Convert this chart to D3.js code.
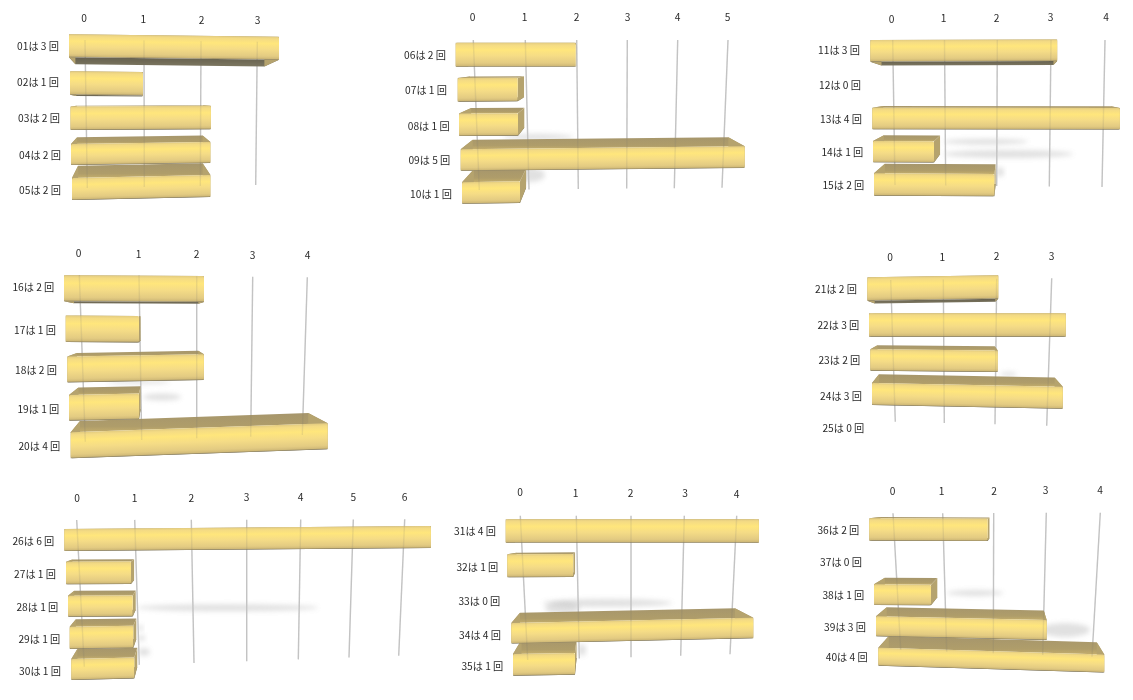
<!DOCTYPE html>
<html lang="ja"><head><meta charset="utf-8">
<style>html,body{margin:0;padding:0;background:#fff}svg{display:block}
text{font-family:"Noto Sans CJK JP","Noto Sans",sans-serif;font-size:10.2px;fill:#2a2a2a}</style>
<script src="https://cdn.jsdelivr.net/npm/d3@7"></script></head><body>
<svg id="c" width="1133" height="700"></svg>
<script>
// ---- values ----
const counts01to05=[3,1,2,2,2];
const counts06to10=[2,1,1,5,1];
const counts11to15=[3,0,4,1,2];
const counts16to20=[2,1,2,1,4];
const counts21to25=[2,3,2,3,0];
const counts26to30=[6,1,1,1,1];
const counts31to35=[4,1,0,4,1];
const counts36to40=[2,0,1,3,4];
const allCounts=[counts01to05,counts06to10,counts11to15,counts16to20,counts21to25,counts26to30,counts31to35,counts36to40];
const axisMax=[3,5,4,4,3,6,4,4];

// ---- perspective calibration per panel (view parameters, not data) ----
const views=[
{vx:133,vy:102,sx:.9,sy:.84,left:[69,70,70.5,71,72],unit:[70,73,70.2,69.7,69.2],cy:[45.7,83,118.2,154.5,189],h:[23,23.5,23.5,21,22],slope:[.012,.01,-.005,-.015,-.022],
 top:[85,144,201,257.3],bot:[87.3,144.3,200.3,255.7],gy:[40,41.7,188,185],tick:[84,143.3,201.7,257.5],ty:[18.5,20.5],
 lx:[59,59,60,61,61],ly:[46,82,118.7,155,190],shadows:[]},
{vx:581,vy:64,sx:.9,sy:.89,left:[455.7,457.7,459,460.7,462],unit:[60,60,59,56.8,58],cy:[54.7,89.8,124.7,160,193],h:[24,23.7,22.5,21.7,21.7],slope:[0,-.005,-.005,-.0105,-.015],
 top:[473.3,525.3,576.7,627.3,677.7,728],bot:[479.3,529,578.3,626.7,674.3,722],gy:[40,40,190,187.7],tick:[472.7,524.7,576.7,627.7,677.7,727.7],ty:[17,17],
 lx:[446,447,449.7,450.3,452],ly:[55,90.7,126,160,194],shadows:[[503,573,137,3],[515,545,175,7]]},
{vx:1010,vy:93,sx:.92,sy:.88,left:[870.3,871.3,872.3,873,874],unit:[62.3,62,61.9,61,60.2],cy:[50.8,84,118.5,151.7,184.5],h:[21.7,21.5,21.6,21.3,22.4],slope:[-.003,0,.001,.002,.005],
 top:[892.7,944.5,997.3,1051,1105],bot:[895,945.7,996.7,1049.3,1102],gy:[40,40,185,187],tick:[891.7,943.5,996.7,1050.7,1106],ty:[19,17],
 lx:[860,861,862,863.3,864.3],ly:[50.7,85,119.3,152,185],shadows:[[943,1028,141.7,3],[943,1073,154,4],[996,1004,172,5]]},
{vx:153.6,vy:320,sx:.888,sy:.9,left:[64,65.7,67.3,69,70.7],unit:[70,73.3,68.3,70,64.25],cy:[288.3,328.8,369.5,407.8,445.3],h:[26,26.5,25.8,25.7,26],slope:[.005,.005,-.018,-.02,-.035],
 top:[79.3,139,196.7,252.7,307.3],bot:[85.3,141.7,196.7,250.7,302.3],gy:[275,277.3,441.7,435],tick:[78.7,138.7,196.7,252.7,307.7],ty:[253.3,255.7],
 lx:[54.3,56,57,59.3,60.3],ly:[287.7,330,370,409,446.7],shadows:[[107,170,382,2],[143,181,397,3.5]]},
{vx:960,vy:320,sx:.92,sy:.86,left:[867.3,869,870.3,872,873],unit:[65.5,65.6,63.7,63.6,63],cy:[289,325,360,394,427],h:[23.4,23.4,21.4,22,21],slope:[-.015,0,.01,.02,.02],
 top:[890.7,943.3,996.7,1051.7],bot:[895.3,944.3,995,1046.7],gy:[280,278.3,421.7,425.7],tick:[890,942.3,996.7,1051.7],ty:[257.3,256],
 lx:[857,859.3,860.3,862,864.3],ly:[289.3,325,360,396,428.3],shadows:[[1000,1017,374,2]]},
{vx:193,vy:535,sx:.95,sy:.92,left:[64.3,66,68,69.7,71.3],unit:[61.1,65,64.7,63.6,63],cy:[540,573,606.2,637.8,669.5],h:[22,22.6,21,22.3,21],slope:[-.008,-.005,-.005,-.015,-.025],
 top:[76.7,134.7,191.3,246.7,300.7,353.3,404.7],bot:[84.3,139.3,194,246.7,298.3,349,398.7],gy:[520,519.3,666.7,655.7],tick:[77,134.7,191.3,246.7,300.7,353.3,404.7],ty:[498.3,497.3],
 lx:[54.3,56,58.3,60.3,61],ly:[541.7,574.3,607,639.3,671],shadows:[[137,318,607.7,3.5],[138,143,628,3],[138,145,638,3],[138,150,652,4]]},
{vx:589,vy:541,sx:.888,sy:.875,left:[505.7,507.3,509.3,511.3,513],unit:[63.3,66,62,60.5,62],cy:[531,565.8,599,633.3,664.8],h:[23.4,23,21,20.5,21.7],slope:[0,-.005,-.01,-.022,-.015],
 top:[520.3,576.3,631,684.3,736.7],bot:[527.7,579.3,631,680.7,730],gy:[515.7,515.7,660,654.3],tick:[520,575.7,630.7,685,736.7],ty:[492.7,494],
 lx:[496,498.3,500.3,501,503.3],ly:[531,567.3,601,635,666],shadows:[[543,672,603,4],[545,580,608,6],[578,586,650,6]]},
{vx:1010,vy:503,sx:.92,sy:.92,left:[869.3,871.5,874,876,878.3],unit:[59.2,58,57,56.9,56.5],cy:[529.5,562,594.7,626.2,656.7],h:[22.4,20,20.7,20,18],slope:[.003,0,.005,.022,.03],
 top:[893,942.7,993.7,1046.3,1100.3],bot:[900.7,946.7,993.3,1042.7,1092],gy:[513.3,512.7,650,656.7],tick:[892.7,941.7,994,1045.7,1100],ty:[491.7,490],
 lx:[859.3,862,864.3,866,867.7],ly:[530,562.7,595,627.3,657.7],shadows:[[947,1003,593,3],[1040,1090,630,7]]}
];

const svg=d3.select("#c"), defs=svg.append("defs");
defs.append("filter").attr("id","soft").attr("filterUnits","userSpaceOnUse")
  .attr("x",0).attr("y",0).attr("width",1133).attr("height",700)
  .append("feGaussianBlur").attr("stdDeviation",.45);
defs.append("filter").attr("id","shadow").attr("x","-30%").attr("y","-150%").attr("width","160%").attr("height","400%")
  .append("feGaussianBlur").attr("stdDeviation",2.4);
function grad(id,stops){const g=defs.append("linearGradient").attr("id",id).attr("x1",0).attr("x2",0).attr("y1",0).attr("y2",1);
  stops.forEach(([o,c])=>g.append("stop").attr("offset",o).attr("stop-color",c));}
grad("front",[[0,"#E2CB80"],[.1,"#F4DB84"],[.3,"#FFE67C"],[.55,"#F5DC86"],[.85,"#E3CB82"],[.95,"#D2BB78"],[1,"#8F8464"]]);
grad("topFace",[[0,"#A6966C"],[.7,"#AF9D6B"],[1,"#C4AE6C"]]);
grad("underFace",[[0,"#66614F"],[1,"#7C7660"]]);

const root=svg.append("g").attr("filter","url(#soft)");
const line=d3.line();

allCounts.forEach((vals,pi)=>{
  const V=views[pi], rows=d3.range(5), rowStops=stops=>d3.scaleLinear().domain(rows).range(stops);
  const left=rowStops(V.left),unit=rowStops(V.unit),cy=rowStops(V.cy),hh=rowStops(V.h),slope=rowStops(V.slope);
  const labelX=rowStops(V.lx),labelY=rowStops(V.ly);
  const ticks=d3.range(axisMax[pi]+1);
  const topX=d3.scaleLinear().domain(ticks).range(V.top), botX=d3.scaleLinear().domain(ticks).range(V.bot),
        labX=d3.scaleLinear().domain(ticks).range(V.tick);
  const last=axisMax[pi];
  const topY=d3.scaleLinear().domain([0,last]).range(V.gy.slice(0,2)), botY=d3.scaleLinear().domain([0,last]).range(V.gy.slice(2,4)),
        labY=d3.scaleLinear().domain([0,last]).range(V.ty);
  const g=root.append("g");

  // soft floor shadows
  g.append("g").selectAll("ellipse").data(V.shadows).join("ellipse")
    .attr("cx",d=>(d[0]+d[1])/2).attr("cy",d=>d[2]).attr("rx",d=>(d[1]-d[0])/2).attr("ry",d=>d[3])
    .attr("fill","#a4a4a4").attr("opacity",.33).attr("filter","url(#shadow)");

  // grid behind bars
  const gridLine=sel=>sel.attr("x1",topX).attr("x2",botX).attr("y1",topY).attr("y2",botY);
  g.append("g").selectAll("line").data(ticks).join("line").call(gridLine).attr("stroke","#d0d0d0").attr("stroke-width",1.4);

  // tick labels
  g.append("g").selectAll("text").data(ticks).join("text").attr("x",labX).attr("y",labY)
    .attr("text-anchor","middle").attr("dy","0.36em").text(d=>d);

  // row labels
  g.append("g").selectAll("text").data(rows).join("text").attr("x",labelX).attr("y",labelY)
    .attr("text-anchor","end").attr("dy","0.36em")
    .text(r=>`${String(pi*5+r+1).padStart(2,"0")}は ${vals[r]} 回`);

  const bars=rows.filter(r=>vals[r]>0).map(r=>{
    const x0=left(r), x1=x0+unit(r)*vals[r], k=slope(r), h=hh(r), yL=cy(r)-h/2;
    const yAt=x=>yL+(x-x0)*k;
    const back=([x,y])=>[V.vx+(x-V.vx)*V.sx, V.vy+(y-V.vy)*V.sy];
    const TL=[x0,yAt(x0)],TR=[x1,yAt(x1)],BR=[x1,yAt(x1)+h],BL=[x0,yAt(x0)+h];
    return {r,x0,x1,k,h,yL,TL,TR,BR,BL,bTL:back(TL),bTR:back(TR),bBR:back(BR),bBL:back(BL)};
  });

  const faces=g.append("g");
  bars.forEach(b=>{
    const q=(pts,fill)=>faces.append("path").attr("d",line(pts)+"Z").attr("fill",fill);
    q([b.BL,b.BR,b.bBR,b.bBL],"url(#underFace)");
    q([b.TL,b.TR,b.bTR,b.bTL],"url(#topFace)");
    q([b.TR,b.BR,b.bBR,b.bTR],"#B5A36E");
    q([b.TL,b.BL,b.bBL,b.bTL],"#B5A36E");
  });
  const fronts=g.append("g");
  bars.forEach(b=>{
    fronts.append("rect").attr("width",b.x1-b.x0).attr("height",b.h).attr("rx",1.5)
      .attr("transform",`translate(${b.x0},${b.yL}) skewY(${Math.atan(b.k)*180/Math.PI})`).attr("fill","url(#front)");
  });

  // faint grid showing through the bars
  g.append("g").selectAll("line").data(ticks).join("line").call(gridLine).attr("stroke","#6b6b6b").attr("stroke-opacity",.13).attr("stroke-width",1.4);
});
</script></body></html>
